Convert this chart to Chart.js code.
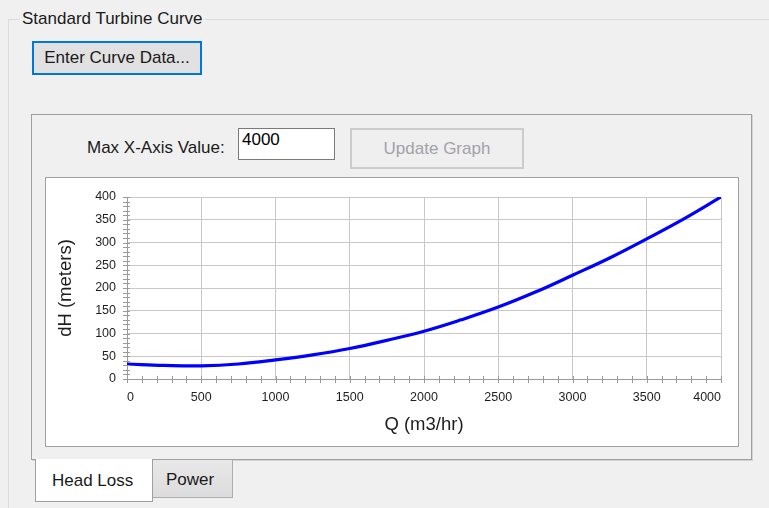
<!DOCTYPE html>
<html>
<head>
<meta charset="utf-8">
<script src="https://cdn.jsdelivr.net/npm/chart.js@4.4.1/dist/chart.umd.min.js"></script>
<style>
  html, body { margin: 0; padding: 0; }
  body { width: 769px; height: 508px; background: #f0f0f0; position: relative; overflow: hidden;
         font-family: Arial, "Liberation Sans", sans-serif; font-size: 17px; color: #1a1a1a; }
  .abs { position: absolute; box-sizing: border-box; }
  #group { left: 8px; top: 19px; width: 780px; height: 500px; border-top: 1px solid #dcdcdc; border-left: 1px solid #dcdcdc; }
  #groupTitle { left: 20px; top: 9px; line-height: 19px; padding: 0 2px; background: #f0f0f0; white-space: nowrap; }
  #enterBtn { left: 32px; top: 41px; width: 170px; height: 34px; border: 2px solid #0078d7; background: #e1e1e1;
              display: flex; align-items: center; justify-content: center; white-space: nowrap; }
  #panel { left: 31px; top: 114px; width: 721px; height: 346px; border: 1px solid #a0a0a0; box-shadow: 1px 1px 0 #d4d4d4; }
  #maxLabel { left: 87px; top: 138px; line-height: 19px; white-space: nowrap; }
  #maxBox { left: 238px; top: 128px; width: 97px; height: 32px; border: 1px solid #7a7a7a; background: #fff;
            padding: 1px 0 0 3px; line-height: 19px; color: #000; }
  #updBtn { left: 350px; top: 128px; width: 174px; height: 41px; border: 2px solid #cccccc; background: #efefef;
            color: #a3a1a8; display: flex; align-items: center; justify-content: center; white-space: nowrap; }
  #chartBox { left: 45px; top: 177px; width: 694px; height: 270px; border: 1px solid #a0a0a0; background: #fff; }
  #chartBox canvas { position: absolute; left: 0; top: 0; }
  #tabHead { left: 35px; top: 459px; width: 118px; height: 43px; background: #fff; border: 1px solid #a0a0a0; border-top: none;
             padding: 12px 0 0 16px; line-height: 19px; color: #1a1a1a; }
  #tabPower { left: 153px; top: 460px; width: 80px; height: 38px; background: linear-gradient(#e8e8e8, #dcdcdc);
              border: 1px solid #adadad; border-top: none; border-left: none; padding: 10px 0 0 13px; line-height: 19px; color: #1a1a1a; }
</style>
</head>
<body>
<div id="group" class="abs"></div>
<div id="groupTitle" class="abs">Standard Turbine Curve</div>
<div id="enterBtn" class="abs">Enter Curve Data...</div>
<div id="panel" class="abs"></div>
<div id="maxLabel" class="abs">Max X-Axis Value:</div>
<div id="maxBox" class="abs">4000</div>
<div id="updBtn" class="abs">Update Graph</div>
<div id="chartBox" class="abs"><canvas id="c" width="692" height="268" style="width:692px;height:268px"></canvas></div>
<div id="tabHead" class="abs">Head Loss</div>
<div id="tabPower" class="abs">Power</div>

<script>
// ---- data ----
const flowQ  = [0, 250, 500, 750, 1000, 1250, 1500, 1750, 2000, 2250, 2500, 2750, 3000, 3250, 3500, 3750, 4000];
const headDH = [33, 30, 29, 33, 42, 53, 67, 85, 105, 130, 158, 191, 228, 266, 308, 352, 400];
const xTickValues = [0, 500, 1000, 1500, 2000, 2500, 3000, 3500, 4000];
const yTickValues = [0, 50, 100, 150, 200, 250, 300, 350, 400];
const xTitle = 'Q (m3/hr)';
const yTitle = 'dH (meters)';

const points = flowQ.map((q, i) => ({ x: q, y: headDH[i] }));

const minorTicks = {
  id: 'minorTicks',
  afterDraw(chart) {
    const ctx = chart.ctx, xs = chart.scales.x, ys = chart.scales.y;
    const ca = chart.chartArea;
    ctx.save();
    ctx.strokeStyle = '#9a9a9a';
    ctx.lineWidth = 1;
    ctx.beginPath();
    for (let v = xs.min; v <= xs.max; v += 100) {
      const px = Math.round(xs.getPixelForValue(v)) + 0.5;
      ctx.moveTo(px, ca.bottom - 3); ctx.lineTo(px, ca.bottom + 4);
    }
    for (let v = ys.min; v <= ys.max; v += 10) {
      const py = Math.round(ys.getPixelForValue(v)) + 0.5;
      ctx.moveTo(ca.left - 4, py); ctx.lineTo(ca.left + 3, py);
    }
    ctx.stroke();
    ctx.restore();
  }
};

const tickFont = { family: 'Arial, "Liberation Sans", sans-serif', size: 12.5 };
const titleFont = { family: 'Arial, "Liberation Sans", sans-serif', size: 18.5 };

new Chart(document.getElementById('c'), {
  type: 'line',
  data: {
    datasets: [{
      data: points,
      borderColor: '#0000ff',
      borderWidth: 3.2,
      pointRadius: 0,
      tension: 0.4,
      fill: false
    }]
  },
  options: {
    responsive: false,
    animation: false,
    events: [],
    layout: { padding: { left: 5, top: 19, right: 17, bottom: 6 } },
    plugins: { legend: { display: false }, tooltip: { enabled: false } },
    scales: {
      x: {
        type: 'linear', min: 0, max: 4000,
        afterBuildTicks: s => { s.ticks = xTickValues.map(v => ({ value: v })); },
        afterFit: s => { s.height = 61; s.paddingLeft = 0; s.paddingRight = 0; },
        ticks: { font: tickFont, color: '#1e1e1e', padding: 11, maxRotation: 0, autoSkip: false,
                 align: 'inner', callback: v => String(v) },
        grid: { color: '#c8c8c8', lineWidth: 1, drawTicks: false },
        border: { color: '#9a9a9a', width: 1 },
        title: { display: true, text: xTitle, font: titleFont, color: '#1e1e1e', padding: { top: 4, bottom: 4 } }
      },
      y: {
        type: 'linear', min: 0, max: 400,
        afterBuildTicks: s => { s.ticks = yTickValues.map(v => ({ value: v })); },
        afterFit: s => { s.width = 76; s.paddingTop = 0; s.paddingBottom = 0; },
        ticks: { font: tickFont, color: '#1e1e1e', padding: 11, autoSkip: false, callback: v => String(v) },
        grid: { color: '#c8c8c8', lineWidth: 1, drawTicks: false },
        border: { color: '#9a9a9a', width: 1 },
        title: { display: true, text: yTitle, font: titleFont, color: '#1e1e1e', padding: { top: 4, bottom: 4 } }
      }
    }
  },
  plugins: [minorTicks]
});
</script>
</body>
</html>
